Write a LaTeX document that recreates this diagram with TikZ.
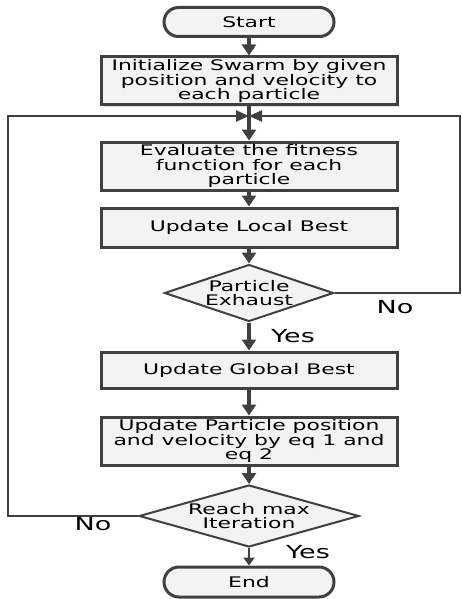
\documentclass[tikz,border=0pt]{standalone}
\usepackage{fontspec}
\setmainfont{DejaVu Sans}[FakeStretch=1.5]
\usetikzlibrary{shapes.geometric,shapes.misc,arrows.meta,shadows}
\definecolor{lineclr}{HTML}{404040}
\definecolor{boxclr}{HTML}{F3F3F3}
\newcommand\boxfont{\fontsize{14.6}{14.2}\selectfont\lineskiplimit=-6pt}
\newcommand\labfont{\fontsize{18}{22}\selectfont}
\begin{document}
\begin{tikzpicture}[x=1pt,y=-1pt,
       procbox/.style={rectangle,draw=lineclr,line width=3pt,fill=boxclr,
         minimum width=296pt,inner sep=0pt,align=center,font=\boxfont,
         drop shadow={shadow xshift=2pt,shadow yshift=-2pt,fill=black!25}},
       termbox/.style={rounded rectangle,draw=lineclr,line width=3pt,fill=boxclr,
         minimum width=170pt,minimum height=29pt,inner sep=0pt,font=\boxfont},
       decbox/.style={diamond,draw=lineclr,line width=2pt,fill=boxclr,
         inner sep=0pt,align=center,font=\boxfont},
       flow/.style={draw=lineclr,line width=3.8pt,-{Triangle[width=14pt,length=11pt]}},
       thinflow/.style={draw=lineclr,line width=1.8pt,-{Triangle[width=11pt,length=8pt]}},
       loop/.style={draw=lineclr,line width=2.4pt,-{Triangle[width=11pt,length=13pt]}},
       lab/.style={font=\labfont,inner sep=0pt}]
       \useasboundingbox (0,0) rectangle (462,599);

       \node[termbox] (start) at (249,22) {Start};
       \node[procbox,minimum height=48pt] (init) at (249,81)
         {Initialize Swarm by given\\position and velocity to\\each particle};
       \coordinate (join) at (249,116);
       \node[procbox,minimum height=48pt] (eval) at (249,166)
         {Evaluate the fitness\\function for each\\particle};
       \node[procbox,minimum height=39pt] (local) at (249,227.5) {Update Local Best};
       \node[decbox,aspect=2.96,minimum width=169pt,minimum height=57pt] (exhaust) at (249,293)
         {Particle\\Exhaust};
       \node[procbox,minimum height=36pt] (global) at (249,370) {Update Global Best};
       \node[procbox,minimum height=48pt] (update) at (249,441)
         {Update Particle position\\and velocity by eq 1 and\\eq 2};
       \node[decbox,aspect=3.55,minimum width=220pt,minimum height=62pt] (reach) at (249,516)
         {Reach max\\Iteration};
       \node[termbox,minimum height=30pt] (end) at (249,582) {End};

       \draw[flow] (start) -- (init);
       \draw[flow] (init) -- (eval);
       \draw[flow] (eval) -- (local);
       \draw[flow] (local) -- (exhaust);
       \draw[flow] (exhaust) -- (global);
       \draw[flow] (global) -- (update);
       \draw[flow] (update) -- (reach);
       \draw[thinflow] (reach) -- (end);

       \coordinate (rightbend) at (460,293);
       \coordinate (righttop) at (460,116);
       \draw[loop] (exhaust.east) -- (rightbend) -- (righttop) -- (join);
       \coordinate (leftbend) at (8,516);
       \coordinate (lefttop) at (8,116);
       \draw[loop] (reach.west) -- (leftbend) -- (lefttop) -- (join);

       \node[lab] (noright) at (395,307) {No};
       \node[lab] (yestop) at (293,336) {Yes};
       \node[lab] (noleft) at (93,524) {No};
       \node[lab] (yesbottom) at (308,552) {Yes};
\end{tikzpicture}
\end{document}
